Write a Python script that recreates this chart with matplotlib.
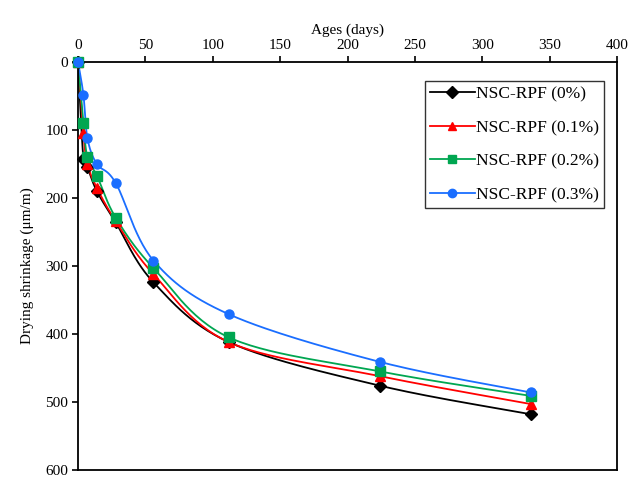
import numpy as np
import matplotlib
matplotlib.use("Agg")
import matplotlib.pyplot as plt

ages = [0, 4, 7, 14, 28, 56, 112, 224, 336]
rpf_0 = [0, 143, 155, 190, 236, 324, 412, 476, 518]
rpf_01 = [0, 105, 150, 185, 234, 312, 412, 462, 503]
rpf_02 = [0, 90, 140, 167, 229, 303, 405, 455, 491]
rpf_03 = [0, 48, 112, 150, 178, 292, 371, 441, 486]

series = [
    ("NSC-RPF (0%)", rpf_0, "black", "D"),
    ("NSC-RPF (0.1%)", rpf_01, "#FF0000", "^"),
    ("NSC-RPF (0.2%)", rpf_02, "#00A651", "s"),
    ("NSC-RPF (0.3%)", rpf_03, "#1A6EFF", "o"),
]


def smooth(x, y, sx=535 / 400, sy=408 / 600, n=30):
    # Excel-like smoothed line (Catmull-Rom Bezier), done in screen proportions
    px = np.asarray(x, float) * sx
    py = np.asarray(y, float) * sy
    P = np.column_stack([px, py])
    out = [P[0]]
    for i in range(len(P) - 1):
        p0 = P[i - 1] if i > 0 else P[i]
        p1, p2 = P[i], P[i + 1]
        p3 = P[i + 2] if i + 2 < len(P) else P[i + 1]
        c1 = p1 + (p2 - p0) / 6
        c2 = p2 - (p3 - p1) / 6
        t = np.linspace(0, 1, n)[1:, None]
        seg = ((1 - t) ** 3) * p1 + 3 * ((1 - t) ** 2) * t * c1 \
            + 3 * (1 - t) * t ** 2 * c2 + t ** 3 * p2
        out.extend(seg)
    out = np.array(out)
    return out[:, 0] / sx, out[:, 1] / sy


plt.rcParams["font.family"] = ["Liberation Serif", "DejaVu Serif"]

fig = plt.figure(figsize=(6.29, 4.78), dpi=100)
ax = fig.add_axes([78 / 629, 8 / 478, 539 / 629, 408 / 478])

for label, vals, color, marker in series:
    xs, ys = smooth(ages, vals)
    ax.plot(xs, ys, color=color, lw=1.3, zorder=2)
    ax.plot(ages, vals, linestyle="none", marker=marker, color=color,
            markersize=6.5 if marker != "D" else 6, zorder=3, clip_on=False)
    ax.plot([], [], color=color, lw=1.3, marker=marker, markersize=6,
            label=label)

ax.set_xlim(0, 400)
ax.set_ylim(600, 0)
ax.set_xticks(range(0, 401, 50))
ax.set_yticks(range(0, 601, 100))
ax.xaxis.tick_top()
ax.xaxis.set_label_position("top")
ax.tick_params(axis="both", direction="out", length=4, width=1.2,
               labelsize=11, pad=3)
ax.set_xlabel("Ages (days)", fontsize=11, labelpad=4)
ax.set_ylabel("Drying shrinkage (μm/m)", fontsize=11, labelpad=8)
for sp in ax.spines.values():
    sp.set_linewidth(1.3)

leg = ax.legend(loc="upper right", bbox_to_anchor=(0.976, 0.953),
                borderaxespad=0, fontsize=12.5, frameon=True, fancybox=False,
                edgecolor="black", handlelength=2.6, handletextpad=0.05,
                labelspacing=1.0, borderpad=0.3)
leg.get_frame().set_linewidth(1.0)

fig.savefig("out.png", dpi=100)
